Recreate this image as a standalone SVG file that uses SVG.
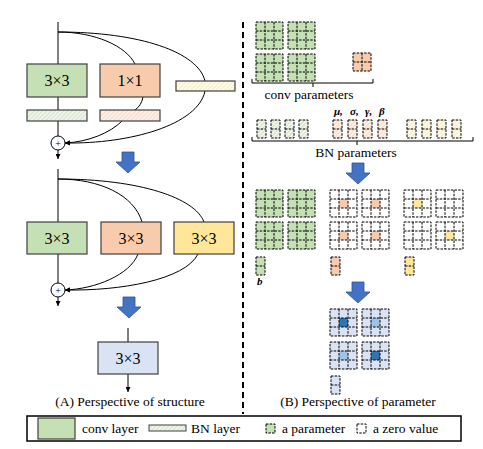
<svg xmlns="http://www.w3.org/2000/svg" width="483" height="449" viewBox="0 0 483 449">
<style>
text{font-family:"Liberation Serif","Times New Roman",serif;fill:#000}
.box{stroke:#404040;stroke-width:1.2}
.ln{fill:none;stroke:#000;stroke-width:1}
.cap{font-size:13.5px;text-anchor:middle}
.lbl{font-size:16px;text-anchor:middle}
.blue{fill:#4472c4;stroke:#2f528f;stroke-width:0.8}
.gk{fill:#c5e0b4}.ok{fill:#f8cbad}.yk{fill:#ffe699}.bk{fill:#dae3f3}.wk{fill:#fff}
.bd{fill:#2e75b6}.bl{fill:#9dc3e6}
.gr{font-size:11px;font-style:italic;font-weight:bold}
</style>
<defs>
<pattern id="hg" patternUnits="userSpaceOnUse" width="3" height="3" patternTransform="rotate(45)"><rect width="3" height="3" fill="#f1f6ec"/><line x1="0" y1="0" x2="0" y2="3" stroke="#b8cca6" stroke-width="1"/></pattern>
<pattern id="ho" patternUnits="userSpaceOnUse" width="3" height="3" patternTransform="rotate(45)"><rect width="3" height="3" fill="#fdf0e7"/><line x1="0" y1="0" x2="0" y2="3" stroke="#efc2a6" stroke-width="1"/></pattern>
<pattern id="hy" patternUnits="userSpaceOnUse" width="3" height="3" patternTransform="rotate(45)"><rect width="3" height="3" fill="#fffbea"/><line x1="0" y1="0" x2="0" y2="3" stroke="#eadb9c" stroke-width="1"/></pattern>
<marker id="ah" viewBox="0 0 8 8" refX="8" refY="4" markerWidth="5" markerHeight="5" orient="auto" markerUnits="userSpaceOnUse"><path d="M0 0L8 4L0 8z" fill="#000"/></marker>
<g id="g3" fill="none" stroke="#000" stroke-width="1" stroke-dasharray="2.5 1.2"><rect width="27" height="27"/><path d="M9 0V27M18 0V27M0 9H27M0 18H27"/></g>
<g id="g2" fill="none" stroke="#000" stroke-width="1" stroke-dasharray="2.5 1.2"><rect width="18" height="18"/><path d="M9 0V18M0 9H18"/></g>
<g id="v2" fill="none" stroke="#000" stroke-width="1" stroke-dasharray="2.5 1.2"><rect width="9" height="18"/><path d="M0 9H9"/></g>
<g id="s1" fill="none" stroke="#000" stroke-width="1" stroke-dasharray="2.5 1.2"><rect width="9" height="9"/></g>
<polygon id="barrow" points="6,0 18,0 18,10 24,10 12,21 0,10 6,10"/>
</defs>

<!-- divider -->
<line x1="243" y1="22" x2="243" y2="414" stroke="#000" stroke-width="2" stroke-dasharray="6 4"/>

<!-- connectors (left) -->
<g id="connectors">
<path class="ln" d="M58 22V136"/>
<path class="ln" d="M58 32C95 32 126 46 135 64"/>
<path class="ln" d="M58 32C140 32 198 52 205 81"/>
<path class="ln" d="M143 97C142 103 139 107 135 110"/>
<path class="ln" d="M122 121C110 133 88 142 65 143" marker-end="url(#ah)"/>
<path class="ln" d="M205 91C198 125 130 144 65 143" marker-end="url(#ah)"/>
<path class="ln" d="M58 150V159" marker-end="url(#ah)"/>

<path class="ln" d="M58 169V283"/>
<path class="ln" d="M58 179C100 179 134 195 142 222"/>
<path class="ln" d="M58 179C140 179 195 198 204 222"/>
<path class="ln" d="M138 254C130 275 95 289 65 290" marker-end="url(#ah)"/>
<path class="ln" d="M198 254C185 280 120 291 65 290" marker-end="url(#ah)"/>
<path class="ln" d="M58 297V306" marker-end="url(#ah)"/>

<path class="ln" d="M128 328V342"/>
<path class="ln" d="M128 374V392" marker-end="url(#ah)"/>
</g>

<!-- structure 1 -->
<g id="conv3x3_a"><rect class="box gk" x="27" y="64" width="60" height="33"/><text class="lbl" x="57" y="86">3×3</text></g>
<g id="conv1x1_a"><rect class="box ok" x="100" y="64" width="60" height="33"/><text class="lbl" x="130" y="86">1×1</text></g>
<g id="bn_id_a"><rect class="box" fill="url(#hy)" x="176" y="81" width="59" height="10"/></g>
<g id="bn3x3_a"><rect class="box" fill="url(#hg)" x="27" y="110" width="60" height="11"/></g>
<g id="bn1x1_a"><rect class="box" fill="url(#ho)" x="100" y="110" width="60" height="11"/></g>
<g id="add_a"><circle cx="58" cy="143" r="7" fill="#fff" stroke="#000" stroke-width="1"/><text x="58" y="146.5" font-size="10" text-anchor="middle">+</text></g>

<use href="#barrow" class="blue" x="116" y="152"/>

<!-- structure 2 -->
<g id="conv3x3_b1"><rect class="box gk" x="27" y="222" width="60" height="32"/><text class="lbl" x="57" y="244">3×3</text></g>
<g id="conv3x3_b2"><rect class="box ok" x="101" y="222" width="60" height="32"/><text class="lbl" x="131" y="244">3×3</text></g>
<g id="conv3x3_b3"><rect class="box yk" x="174" y="222" width="60" height="32"/><text class="lbl" x="204" y="244">3×3</text></g>
<g id="add_b"><circle cx="58" cy="290" r="7" fill="#fff" stroke="#000" stroke-width="1"/><text x="58" y="293.5" font-size="10" text-anchor="middle">+</text></g>

<use href="#barrow" class="blue" x="117" y="297"/>

<!-- structure 3 -->
<g id="conv3x3_c"><rect class="box bk" x="98" y="342" width="60" height="32"/><text class="lbl" x="128" y="364">3×3</text></g>

<text class="cap" x="130" y="406">(A) Perspective of structure</text>

<!-- right: conv parameters -->
<g id="conv_params">
<rect class="gk" x="256" y="22" width="27" height="27"/><use href="#g3" x="256" y="22"/>
<rect class="gk" x="288" y="22" width="27" height="27"/><use href="#g3" x="288" y="22"/>
<rect class="gk" x="256" y="54" width="27" height="27"/><use href="#g3" x="256" y="54"/>
<rect class="gk" x="288" y="54" width="27" height="27"/><use href="#g3" x="288" y="54"/>
<rect class="ok" x="353" y="53" width="18" height="18"/><use href="#g2" x="353" y="53"/>
<path class="ln" d="M252 79V83H373V79M313 83V87"/>
<text class="cap" x="309" y="99">conv parameters</text>
</g>

<!-- BN parameters -->
<g id="bn_params">
<rect fill="url(#hg)" x="257" y="120" width="9" height="18"/><use href="#v2" x="257" y="120"/>
<rect fill="url(#hg)" x="271" y="120" width="9" height="18"/><use href="#v2" x="271" y="120"/>
<rect fill="url(#hg)" x="285" y="120" width="9" height="18"/><use href="#v2" x="285" y="120"/>
<rect fill="url(#hg)" x="299" y="120" width="9" height="18"/><use href="#v2" x="299" y="120"/>
<rect fill="url(#ho)" x="333" y="120" width="9" height="18"/><use href="#v2" x="333" y="120"/>
<rect fill="url(#ho)" x="348" y="120" width="9" height="18"/><use href="#v2" x="348" y="120"/>
<rect fill="url(#ho)" x="363" y="120" width="9" height="18"/><use href="#v2" x="363" y="120"/>
<rect fill="url(#ho)" x="378" y="120" width="9" height="18"/><use href="#v2" x="378" y="120"/>
<rect fill="url(#hy)" x="407" y="120" width="9" height="18"/><use href="#v2" x="407" y="120"/>
<rect fill="url(#hy)" x="422" y="120" width="9" height="18"/><use href="#v2" x="422" y="120"/>
<rect fill="url(#hy)" x="437" y="120" width="9" height="18"/><use href="#v2" x="437" y="120"/>
<rect fill="url(#hy)" x="452" y="120" width="9" height="18"/><use href="#v2" x="452" y="120"/>
<text class="gr" x="334" y="115">μ,</text>
<text class="gr" x="350" y="115">σ,</text>
<text class="gr" x="365" y="115">γ,</text>
<text class="gr" x="379" y="115">β</text>
<path class="ln" d="M252 137V141H473V137M357 141V145"/>
<text class="cap" x="356" y="157">BN parameters</text>
</g>

<use href="#barrow" class="blue" x="346" y="163"/>

<!-- merged 3x3 kernels -->
<g id="merged_params">
<rect class="gk" x="256" y="190" width="27" height="27"/><use href="#g3" x="256" y="190"/>
<rect class="gk" x="288" y="190" width="27" height="27"/><use href="#g3" x="288" y="190"/>
<rect class="gk" x="256" y="222" width="27" height="27"/><use href="#g3" x="256" y="222"/>
<rect class="gk" x="288" y="222" width="27" height="27"/><use href="#g3" x="288" y="222"/>

<rect class="wk" x="330" y="190" width="27" height="27"/><rect class="ok" x="339" y="199" width="9" height="9"/><use href="#g3" x="330" y="190"/>
<rect class="wk" x="362" y="190" width="27" height="27"/><rect class="ok" x="371" y="199" width="9" height="9"/><use href="#g3" x="362" y="190"/>
<rect class="wk" x="330" y="222" width="27" height="27"/><rect class="ok" x="339" y="231" width="9" height="9"/><use href="#g3" x="330" y="222"/>
<rect class="wk" x="362" y="222" width="27" height="27"/><rect class="ok" x="371" y="231" width="9" height="9"/><use href="#g3" x="362" y="222"/>

<rect class="wk" x="404" y="190" width="27" height="27"/><rect class="yk" x="413" y="199" width="9" height="9"/><use href="#g3" x="404" y="190"/>
<rect class="wk" x="436" y="190" width="27" height="27"/><use href="#g3" x="436" y="190"/>
<rect class="wk" x="404" y="222" width="27" height="27"/><use href="#g3" x="404" y="222"/>
<rect class="wk" x="436" y="222" width="27" height="27"/><rect class="yk" x="445" y="231" width="9" height="9"/><use href="#g3" x="436" y="222"/>

<rect class="gk" x="256" y="257" width="9" height="18"/><use href="#v2" x="256" y="257"/>
<rect class="ok" x="331" y="257" width="9" height="18"/><use href="#v2" x="331" y="257"/>
<rect class="yk" x="405" y="257" width="9" height="18"/><use href="#v2" x="405" y="257"/>
<text x="257" y="285" font-size="11" font-style="italic" font-weight="bold">b</text>
</g>

<use href="#barrow" class="blue" x="346" y="282"/>

<!-- final kernel -->
<g id="final_params">
<rect class="bk" x="330" y="309" width="27" height="27"/><rect class="bd" x="339" y="318" width="9" height="9"/><use href="#g3" x="330" y="309"/>
<rect class="bk" x="362" y="309" width="27" height="27"/><rect class="bl" x="371" y="318" width="9" height="9"/><use href="#g3" x="362" y="309"/>
<rect class="bk" x="330" y="342" width="27" height="27"/><rect class="bl" x="339" y="351" width="9" height="9"/><use href="#g3" x="330" y="342"/>
<rect class="bk" x="362" y="342" width="27" height="27"/><rect class="bd" x="371" y="351" width="9" height="9"/><use href="#g3" x="362" y="342"/>
<rect class="bk" x="331" y="376" width="9" height="18"/><use href="#v2" x="331" y="376"/>
</g>

<text class="cap" x="358" y="406">(B) Perspective of parameter</text>

<!-- legend -->
<g id="legend">
<rect x="27" y="416" width="434" height="25" fill="#fff" stroke="#000" stroke-width="1.5"/>
<rect class="box gk" x="38" y="418" width="37" height="21"/>
<text x="82" y="433" font-size="13.5">conv layer</text>
<rect x="149" y="425" width="37" height="6" fill="url(#hg)" stroke="#404040" stroke-width="1"/>
<text x="191" y="433" font-size="13.5">BN layer</text>
<rect class="gk" x="266" y="424" width="9" height="9"/><use href="#s1" x="266" y="424"/>
<text x="282" y="433" font-size="13.5">a parameter</text>
<use href="#s1" x="357" y="424"/>
<text x="373" y="433" font-size="13.5">a zero value</text>
</g>
</svg>
